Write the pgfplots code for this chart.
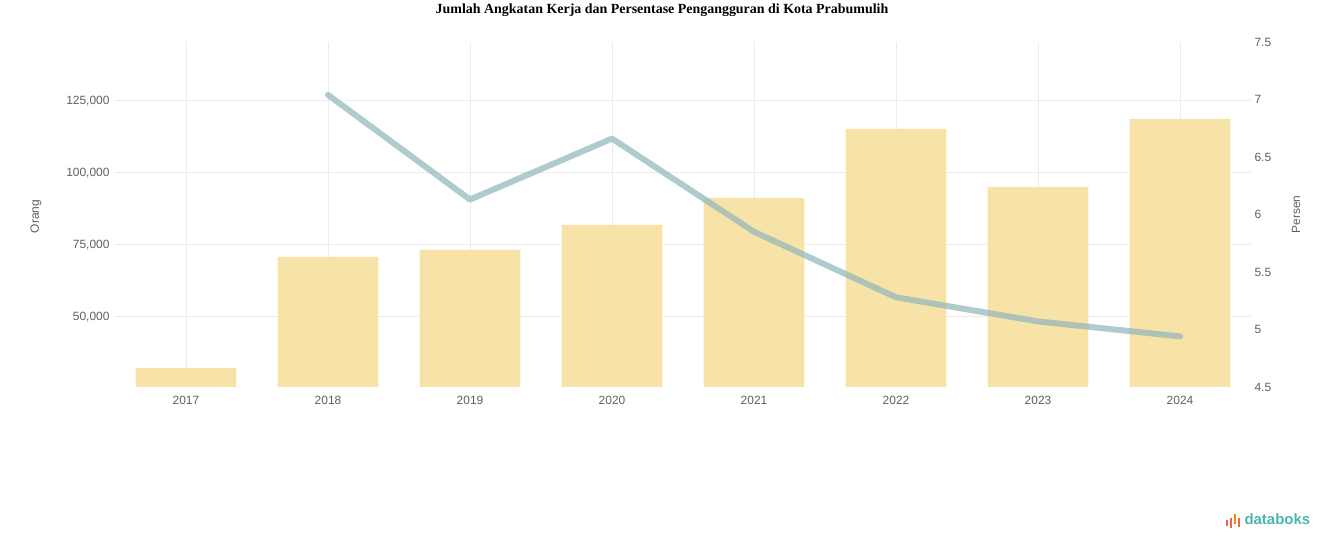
\documentclass[border=0pt]{standalone}
\usepackage{pgfplots}
\pgfplotsset{compat=1.18}
\usepackage{fontspec}
\setmainfont{Liberation Sans}
\newfontfamily\titlefont{Liberation Serif}
\definecolor{barc}{RGB}{247,227,168}
\definecolor{linec}{RGB}{150,185,188}
\definecolor{gridc}{RGB}{236,236,236}
\definecolor{tickc}{RGB}{95,95,95}
\definecolor{teal}{RGB}{74,182,172}
\definecolor{orng}{RGB}{236,104,74}
\begin{document}
\begin{tikzpicture}[x=1bp,y=1bp]
\path[use as bounding box] (0,0) rectangle (1324,547);
\node[font=\titlefont\bfseries\fontsize{14}{16}\selectfont] at (662,537) {Jumlah Angkatan Kerja dan Persentase Pengangguran di Kota Prabumulih};
\begin{axis}[
  at={(115bp,160bp)}, anchor=south west,
  width=1136bp, height=345bp, scale only axis,
  xmin=-0.5, xmax=7.5,
  ymin=25694, ymax=145486,
  scaled y ticks=false,
  xtick={0,...,7},
  xticklabels={2017,2018,2019,2020,2021,2022,2023,2024},
  ytick={50000,75000,100000,125000},
  yticklabels={{50,000},{75,000},{100,000},{125,000}},
  axis line style={draw=none},
  tick style={draw=none},
  xmajorgrids, ymajorgrids,
  grid style={gridc, line width=1bp},
  ticklabel style={font=\fontsize{12}{14}\selectfont, text=tickc},
  yticklabel style={xshift=-2bp},
  ylabel={Orang},
  ylabel style={font=\fontsize{12}{14}\selectfont, text=tickc, at={(ticklabel cs:0.5)}, xshift=-2bp, yshift=18bp},
  xticklabel style={yshift=-1bp},
  ybar, bar width=0.71,
  clip=true,
]
\addplot[fill=barc, draw=none] coordinates {
(0,32292) (1,70833) (2,73264) (3,81944) (4,91319) (5,115278) (6,95139) (7,118750)};
\end{axis}
\begin{axis}[
  at={(115bp,160bp)}, anchor=south west,
  width=1136bp, height=345bp, scale only axis,
  xmin=-0.5, xmax=7.5,
  ymin=4.5, ymax=7.5,
  axis y line*=right, axis x line=none,
  ytick={4.5,5,5.5,6,6.5,7,7.5},
  yticklabels={4.5,5,5.5,6,6.5,7,7.5},
  axis line style={draw=none},
  tick style={draw=none},
  ticklabel style={font=\fontsize{12}{14}\selectfont, text=tickc},
  ylabel={Persen},
  ylabel style={font=\fontsize{12}{14}\selectfont, text=tickc, yshift=-14bp},
  clip=false,
]
\addplot[color=linec, opacity=0.75, line width=6bp, line join=round, line cap=round] coordinates {
(1,7.04) (2,6.13) (3,6.66) (4,5.85) (5,5.28) (6,5.07) (7,4.94)};
\end{axis}
\fill[orng] (1226,21) rectangle (1228,27);
\fill[orng] (1230,19) rectangle (1232,29);
\fill[orange] (1234,23) rectangle (1236,33);
\fill[orng] (1238,20) rectangle (1240,29);
\node[anchor=west, text=teal, font=\bfseries\fontsize{15}{17}\selectfont] at (1241,28) {databoks};
\end{tikzpicture}
\end{document}
